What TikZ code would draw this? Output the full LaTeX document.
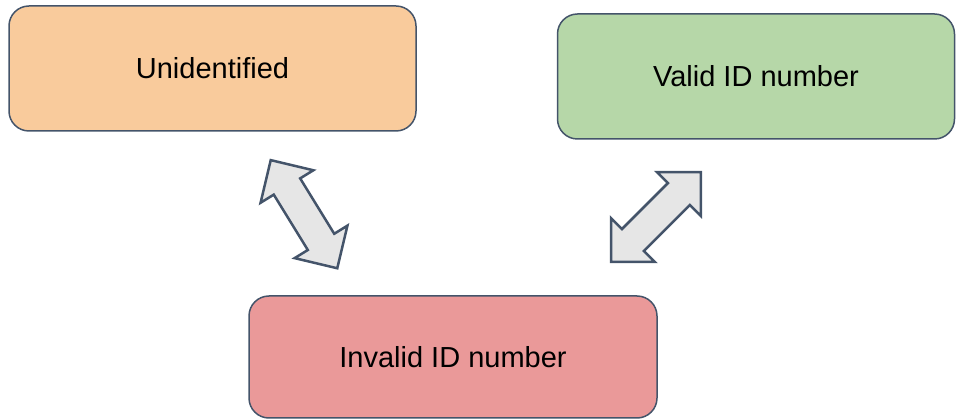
\documentclass[tikz,border=0pt]{standalone}
\usepackage{fontspec}
\setmainfont{Liberation Sans}
\definecolor{edgecol}{HTML}{44546A}
\definecolor{orangefill}{HTML}{F9CB9C}
\definecolor{greenfill}{HTML}{B6D7A8}
\definecolor{redfill}{HTML}{EA9999}
\definecolor{arrowfill}{HTML}{E6E6E6}
\begin{document}
\begin{tikzpicture}[x=1pt,y=-1pt,
  box/.style={draw=edgecol, line width=1.5pt, rounded corners=20pt, inner sep=0pt,
    font=\fontsize{29}{34}\selectfont},
  arrowstyle/.style={draw=edgecol, fill=arrowfill, line width=2.5pt, line join=miter},
  dblarrow/.pic={\draw[arrowstyle] (-63.5,0) -- (-32.5,31) -- (-32.5,15.5) -- (32.5,15.5)
     -- (32.5,31) -- (63.5,0) -- (32.5,-31) -- (32.5,-15.5) -- (-32.5,-15.5) -- (-32.5,-31) -- cycle;}]
\useasboundingbox (0,0) rectangle (956,419);
\node[box, fill=orangefill, minimum width=407pt, minimum height=125pt] (unid) at (212.5,68.5) {Unidentified};
\node[box, fill=greenfill, minimum width=397pt, minimum height=125pt] (valid) at (756,76.5) {Valid ID number};
\node[box, fill=redfill, minimum width=408pt, minimum height=122pt] (invalid) at (453,357) {Invalid ID number};
\pic[rotate=-58.4] (arrowA) at (304,214.2) {dblarrow};
\pic[rotate=45] (arrowB) at (655.9,217) {dblarrow};
\end{tikzpicture}
\end{document}
